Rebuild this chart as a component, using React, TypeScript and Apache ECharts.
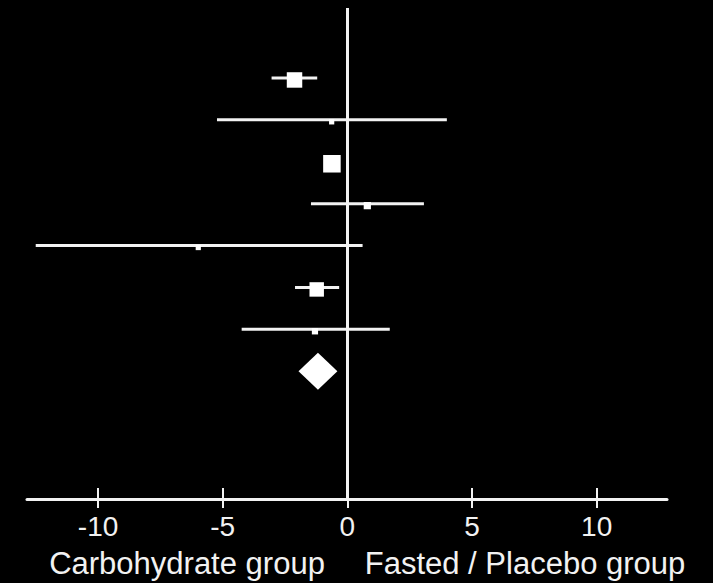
import { useEffect, useRef } from "react";
import * as echarts from "echarts";

// Study rows (top to bottom), mean difference with 95% CI and weight (%)
const studyRow = [0, 1, 2, 3, 4, 5, 6];
const estimate = [-2.12, -0.63, -0.62, 0.8, -5.98, -1.23, -1.3];
const lowerCI = [-3.04, -5.23, -0.9, -1.46, -12.5, -2.1, -4.24];
const upperCI = [-1.21, 3.99, -0.34, 3.07, 0.61, -0.33, 1.7];
const weight = [26.6, 3.0, 34.2, 5.8, 3.0, 23.2, 4.3];

// Pooled estimate (diamond)
const pooledRow = 7;
const pooledEstimate = -1.18;
const pooledLower = -1.96;
const pooledUpper = -0.4;

const tickValues = [-10, -5, 0, 5, 10];
const leftLabel = "Carbohydrate group";
const rightLabel = "Fasted / Placebo group";

export default function App() {
  const ref = useRef<HTMLDivElement>(null);

  useEffect(() => {
    if (!ref.current) return;
    const chart = echarts.init(ref.current, null, { renderer: "svg" });
    const white = "#f2f2f2";
    const font = "'Liberation Sans', Arial, Helvetica, sans-serif";

    const studyData = studyRow.map((r, i) => [r, estimate[i], lowerCI[i], upperCI[i], weight[i]]);
    const pooledData = [[pooledRow, pooledEstimate, pooledLower, pooledUpper]];

    const xCommon = {
      type: "value",
      min: -12.85,
      max: 12.82,
      position: "bottom",
      splitLine: { show: false },
    };

    chart.setOption({
      animation: false,
      backgroundColor: "#000000",
      grid: { left: 27, right: 46, top: 8, bottom: 84 },
      xAxis: [
        {
          ...xCommon,
          axisLine: { show: true, onZero: false, lineStyle: { color: white, width: 3 } },
          axisTick: {
            show: true,
            customValues: tickValues,
            length: 9,
            lineStyle: { color: white, width: 2 },
          },
          axisLabel: {
            show: true,
            customValues: tickValues,
            color: white,
            fontSize: 28,
            fontFamily: font,
            margin: 13,
          },
        },
        {
          ...xCommon,
          axisLine: { show: false, onZero: false },
          axisTick: {
            show: true,
            inside: true,
            customValues: tickValues,
            length: 11,
            lineStyle: { color: white, width: 2 },
          },
          axisLabel: { show: false },
        },
      ],
      yAxis: {
        type: "value",
        min: -1.67,
        max: 10.05,
        inverse: true,
        show: false,
        axisLine: { show: false },
        splitLine: { show: false },
      },
      series: [
        {
          type: "custom",
          xAxisIndex: 0,
          data: studyData,
          encode: { x: [1, 2, 3], y: 0 },
          renderItem: (params: any, api: any) => {
            const row = api.value(0);
            const est = api.value(1);
            const lo = api.value(2);
            const hi = api.value(3);
            const w = api.value(4);
            const pLo = api.coord([lo, row]);
            const pHi = api.coord([hi, row]);
            const pEst = api.coord([est, row]);
            const size = 3 * Math.sqrt(w);
            return {
              type: "group",
              children: [
                {
                  type: "line",
                  shape: { x1: pLo[0], y1: pLo[1], x2: pHi[0], y2: pHi[1] },
                  style: { stroke: white, lineWidth: 3 },
                },
                {
                  type: "rect",
                  shape: { x: pEst[0] - size / 2, y: pEst[1] + 2 - size / 2, width: size, height: size },
                  style: { fill: "#ffffff" },
                },
              ],
            };
          },
          markLine: {
            silent: true,
            symbol: ["none", "none"],
            label: { show: false },
            lineStyle: { color: white, width: 3, type: "solid" },
            data: [{ xAxis: 0 }],
          },
        },
        {
          type: "custom",
          xAxisIndex: 0,
          data: pooledData,
          encode: { x: [1, 2, 3], y: 0 },
          renderItem: (params: any, api: any) => {
            const row = api.value(0);
            const est = api.value(1);
            const lo = api.value(2);
            const hi = api.value(3);
            const c = api.coord([est, row]);
            const l = api.coord([lo, row]);
            const h = api.coord([hi, row]);
            const half = 18.5;
            return {
              type: "polygon",
              shape: {
                points: [
                  [l[0], c[1]],
                  [c[0], c[1] - half],
                  [h[0], c[1]],
                  [c[0], c[1] + half],
                ],
              },
              style: { fill: "#ffffff" },
            };
          },
        },
      ],
      graphic: [
        {
          type: "text",
          x: 187,
          y: 563,
          style: {
            text: leftLabel,
            fill: white,
            font: `31px ${font}`,
            textAlign: "center",
            textVerticalAlign: "middle",
          },
        },
        {
          type: "text",
          x: 525,
          y: 563,
          style: {
            text: rightLabel,
            fill: white,
            font: `31px ${font}`,
            textAlign: "center",
            textVerticalAlign: "middle",
          },
        },
      ],
    });

    return () => chart.dispose();
  }, []);

  return <div ref={ref} style={{ width: 713, height: 583, position: "absolute", left: 0, top: 0 }} />;
}
